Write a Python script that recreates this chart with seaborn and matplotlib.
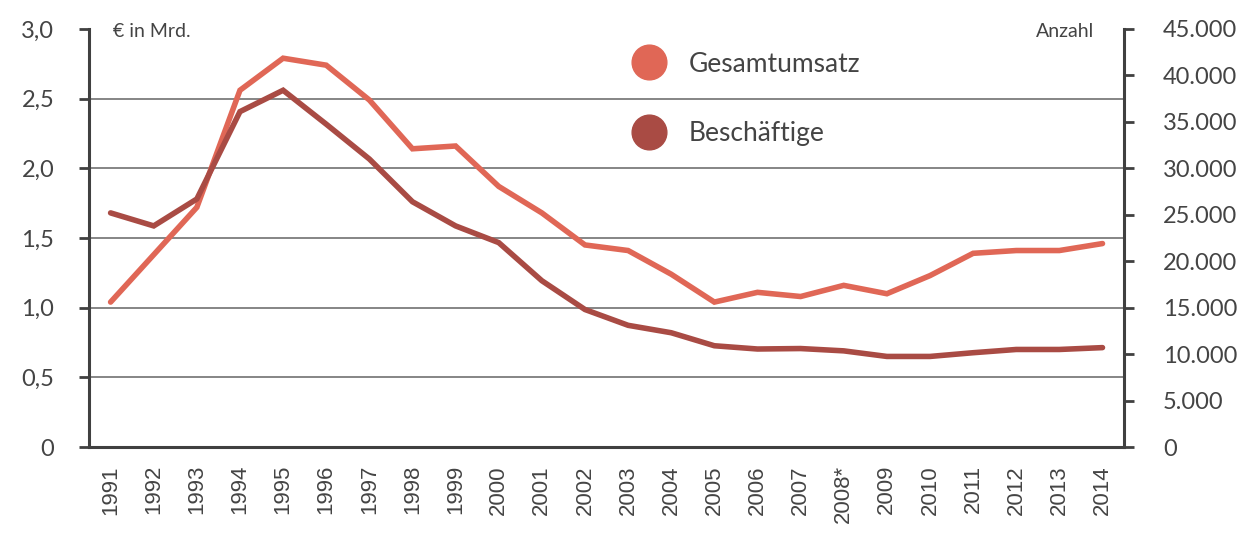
import numpy as np
import pandas as pd
import seaborn as sns
import matplotlib.pyplot as plt
from matplotlib.lines import Line2D
from matplotlib.ticker import FixedLocator

# ----- Data -----
years = ["1991", "1992", "1993", "1994", "1995", "1996", "1997", "1998",
         "1999", "2000", "2001", "2002", "2003", "2004", "2005", "2006",
         "2007", "2008*", "2009", "2010", "2011", "2012", "2013", "2014"]
umsatz = [1.04, 1.38, 1.72, 2.56, 2.79, 2.74, 2.49, 2.14,
          2.16, 1.87, 1.68, 1.45, 1.41, 1.24, 1.04, 1.11,
          1.08, 1.16, 1.10, 1.23, 1.39, 1.41, 1.41, 1.46]
beschaeftigte = [25200, 23800, 26700, 36100, 38400, 34750, 31000, 26400,
                 23800, 22000, 17900, 14800, 13100, 12300, 10900, 10550,
                 10600, 10350, 9750, 9750, 10150, 10500, 10500, 10700]
left_ticks = [0, 0.5, 1.0, 1.5, 2.0, 2.5, 3.0]
left_labels = ["0", "0,5", "1,0", "1,5", "2,0", "2,5", "3,0"]
right_ticks = list(range(0, 45001, 5000))
right_labels = ["0" if v == 0 else f"{v:,}".replace(",", ".") for v in right_ticks]

C_UMSATZ = "#E06756"
C_BESCH = "#A94B44"
AXC = "#404040"
TXT = "#444444"

df = pd.DataFrame({"pos": np.arange(len(years)), "umsatz": umsatz,
                   "besch": beschaeftigte})

sns.set_style("white")
plt.rcParams["font.family"] = ["Lato", "DejaVu Sans"]

fig = plt.figure(figsize=(12.4, 5.36), dpi=100)
ax = fig.add_axes([0.0718, 0.166, 0.8347, 0.780])
ax2 = ax.twinx()

for v in left_ticks[1:-1]:
    ax.axhline(v, color="#858585", lw=1.4, zorder=0)

sns.lineplot(data=df, x="pos", y="umsatz", ax=ax, color=C_UMSATZ, lw=4,
             solid_capstyle="round", solid_joinstyle="miter")
sns.lineplot(data=df, x="pos", y="besch", ax=ax2, color=C_BESCH, lw=4,
             solid_capstyle="round", solid_joinstyle="miter")

n = len(years)
ax.set_xlim(-0.5, n - 0.5)
ax.set_ylim(0, 3.0)
ax2.set_ylim(0, 45000)
ax.set_xlabel("")
ax.set_ylabel("")
ax2.set_ylabel("")

# x ticks: labels at centres, marks at boundaries
ax.set_xticks(np.arange(n))
ax.set_xticklabels(years, rotation=90, va="top", ha="center",
                   family=["Liberation Sans", "DejaVu Sans"],
                   fontsize=16, color=TXT)
ax.xaxis.set_minor_locator(FixedLocator(np.arange(-0.5, n, 1.0)))
ax.tick_params(axis="x", which="major", length=0, pad=13)
ax.tick_params(axis="x", which="minor", length=7, width=2, color=AXC,
               direction="out")

ax.set_yticks(left_ticks)
ax.set_yticklabels(left_labels, fontsize=17, color=TXT)
ax.tick_params(axis="y", length=7, width=2, color=AXC, pad=18,
               direction="out", left=True)

ax2.set_yticks(right_ticks)
ax2.set_yticklabels(right_labels, fontsize=17, color=TXT)
ax2.tick_params(axis="y", length=7, width=2, color=AXC, pad=21,
                direction="out", right=True)

for a in (ax, ax2):
    a.spines["top"].set_visible(False)
    for s in ("left", "right", "bottom"):
        a.spines[s].set_color(AXC)
        a.spines[s].set_linewidth(2.2)
ax2.spines["left"].set_visible(False)
ax2.spines["bottom"].set_visible(False)
ax.spines["right"].set_visible(False)

ax.text(0.023, 0.995, "€ in Mrd.", transform=ax.transAxes, fontsize=14,
        color=TXT, va="center", ha="left")
ax.text(0.971, 0.995, "Anzahl", transform=ax.transAxes, fontsize=14,
        color=TXT, va="center", ha="right")

handles = [Line2D([], [], ls="", marker="o", ms=25, color=C_UMSATZ),
           Line2D([], [], ls="", marker="o", ms=25, color=C_BESCH)]
leg = ax2.legend(handles, ["Gesamtumsatz", "Beschäftige"], loc="upper left",
                 bbox_to_anchor=(0.516, 0.971), frameon=False, fontsize=19,
                 labelspacing=1.68, handletextpad=0.9, handlelength=1.2,
                 borderaxespad=0)
for t in leg.get_texts():
    t.set_color(TXT)

fig.savefig("out.png", dpi=100)
